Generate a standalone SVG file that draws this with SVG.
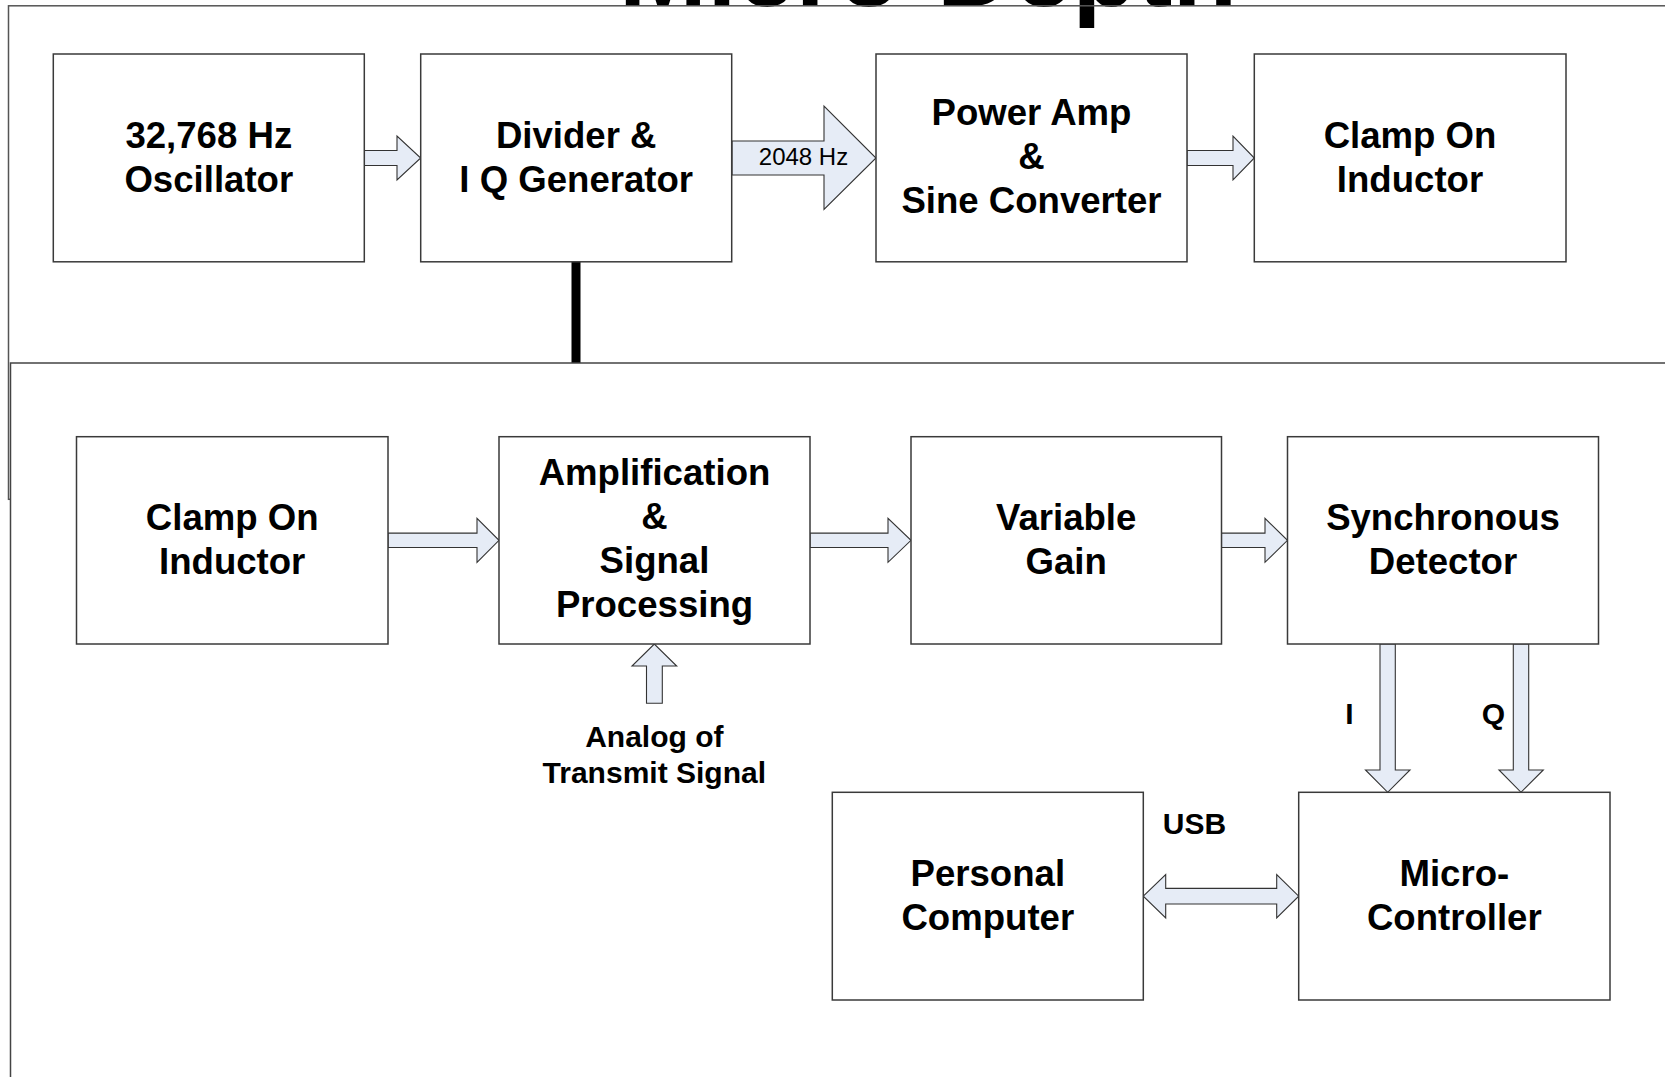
<svg xmlns="http://www.w3.org/2000/svg" width="1665" height="1077" viewBox="0 0 1665 1077">
<style>
.frame{fill:none;stroke:#555;stroke-width:1.5}
.box{fill:#fff;stroke:#3a3a3a;stroke-width:1.5}
.arr{fill:#e6ecf6;stroke:#333;stroke-width:1.1;stroke-linejoin:miter}
.t{font-family:"Liberation Sans",Arial,sans-serif;font-weight:bold;font-size:36.6px;fill:#000;text-anchor:middle}
.s{font-family:"Liberation Sans",Arial,sans-serif;font-weight:bold;font-size:30px;fill:#000;text-anchor:middle}
.r{font-family:"Liberation Sans",Arial,sans-serif;font-size:24px;fill:#000;text-anchor:middle}
</style>
<rect width="1665" height="1077" fill="#fff"/>
<text x="928" y="5.5" font-family="Liberation Sans,Arial,sans-serif" font-weight="bold" font-size="106" text-anchor="middle" fill="#000">Micro-Depth</text>
<g id="frames">
<rect class="frame" x="8.5" y="5.8" width="1700" height="493.5"/>
<line x1="576" y1="257" x2="576" y2="363" stroke="#000" stroke-width="9" stroke-linecap="round"/>
<rect x="10.5" y="363" width="1700" height="800" fill="#fff" stroke="#444" stroke-width="1.5"/>
</g>
<g id="connectors">
<path class="arr" d="M364,150.5 L397,150.5 L397,136 L420.7,158 L397,180 L397,165.5 L364,165.5 Z"/>
<path class="arr" d="M732,141 L824,141 L824,106 L876,158 L824,209.5 L824,175 L732,175 Z"/>
<path class="arr" d="M1187,150.5 L1233,150.5 L1233,136 L1254.3,158 L1233,180 L1233,165.5 L1187,165.5 Z"/>
<path class="arr" d="M388,533.1 L477,533.1 L477,518.3 L499,540.3 L477,562.3 L477,547.5 L388,547.5 Z"/>
<path class="arr" d="M810,533.1 L888,533.1 L888,518.3 L911,540.3 L888,562.3 L888,547.5 L810,547.5 Z"/>
<path class="arr" d="M1221.5,533.1 L1265,533.1 L1265,518.3 L1287.5,540.3 L1265,562.3 L1265,547.5 L1221.5,547.5 Z"/>
<path class="arr" d="M646.5,703.3 L646.5,666 L632,666 L654.3,644 L676.7,666 L662.3,666 L662.3,703.3 Z"/>
<path class="arr" d="M1380,644 L1380,770 L1365.5,770 L1387.7,792.3 L1410,770 L1395.3,770 L1395.3,644 Z"/>
<path class="arr" d="M1513.3,644 L1513.3,770 L1499,770 L1521,792.3 L1543.3,770 L1528.7,770 L1528.7,644 Z"/>
<path class="arr" d="M1143.3,896.2 L1165.7,874.5 L1165.7,888.4 L1276.7,888.4 L1276.7,874.5 L1298.7,896.2 L1276.7,917.9 L1276.7,904 L1165.7,904 L1165.7,917.9 Z"/>
<text class="r" x="803.5" y="164.5">2048 Hz</text>
<text class="s" x="1349.5" y="724">I</text>
<text class="s" x="1493.5" y="724">Q</text>
<text class="s" x="1194.5" y="834">USB</text>
</g>
<g id="osc">
<rect class="box" x="53.3" y="54" width="311" height="207.8"/>
<text class="t" x="208.8" y="147.5">32,768 Hz</text>
<text class="t" x="208.8" y="191.5">Oscillator</text>
</g>
<g id="divider">
<rect class="box" x="420.7" y="54" width="311" height="207.8"/>
<text class="t" x="576.2" y="147.5">Divider &amp;</text>
<text class="t" x="576.2" y="191.5">I Q Generator</text>
</g>
<g id="poweramp">
<rect class="box" x="876" y="54" width="311" height="207.8"/>
<text class="t" x="1031.5" y="125">Power Amp</text>
<text class="t" x="1031.5" y="169">&amp;</text>
<text class="t" x="1031.5" y="213">Sine Converter</text>
</g>
<g id="clamp-tx">
<rect class="box" x="1254.3" y="54" width="311.7" height="207.8"/>
<text class="t" x="1410" y="147.5">Clamp On</text>
<text class="t" x="1410" y="191.5">Inductor</text>
</g>
<g id="clamp-rx">
<rect class="box" x="76.5" y="436.7" width="311.5" height="207.3"/>
<text class="t" x="232.2" y="529.5">Clamp On</text>
<text class="t" x="232.2" y="573.5">Inductor</text>
</g>
<g id="amp">
<rect class="box" x="499" y="436.7" width="311" height="207.3"/>
<text class="t" x="654.5" y="485">Amplification</text>
<text class="t" x="654.5" y="529">&amp;</text>
<text class="t" x="654.5" y="573">Signal</text>
<text class="t" x="654.5" y="617">Processing</text>
</g>
<g id="analog-label">
<text class="s" x="654.3" y="746.7">Analog of</text>
<text class="s" x="654.3" y="782.7">Transmit Signal</text>
</g>
<g id="vargain">
<rect class="box" x="911" y="436.7" width="310.5" height="207.3"/>
<text class="t" x="1066.2" y="529.5">Variable</text>
<text class="t" x="1066.2" y="573.5">Gain</text>
</g>
<g id="syncdet">
<rect class="box" x="1287.5" y="436.7" width="311" height="207.3"/>
<text class="t" x="1443" y="529.5">Synchronous</text>
<text class="t" x="1443" y="573.5">Detector</text>
</g>
<g id="pc">
<rect class="box" x="832.3" y="792.3" width="311" height="207.7"/>
<text class="t" x="987.8" y="885.5">Personal</text>
<text class="t" x="987.8" y="929.5">Computer</text>
</g>
<g id="mcu">
<rect class="box" x="1298.7" y="792.3" width="311.3" height="207.7"/>
<text class="t" x="1454.3" y="885.5">Micro-</text>
<text class="t" x="1454.3" y="929.5">Controller</text>
</g>
</svg>
